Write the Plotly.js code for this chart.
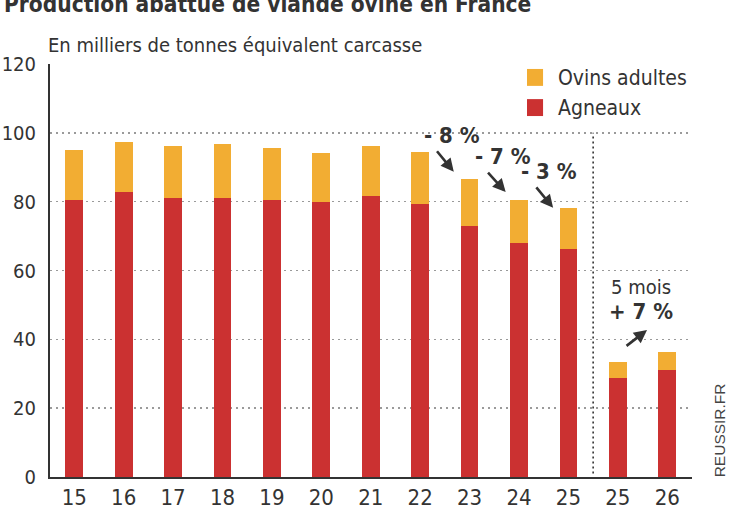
<!DOCTYPE html>
<html><head><meta charset="utf-8">
<script src="https://cdn.plot.ly/plotly-3.0.1.min.js"></script>
<style>html,body{margin:0;padding:0;background:#fff}#chart{width:747px;height:513px}</style>
</head><body><div id="chart"></div>
<script>
const categories = ['15','16','17','18','19','20','21','22','23','24','25','25','26'];
const agneaux = [80.5, 82.8, 81.0, 81.0, 80.5, 79.8, 81.7, 79.3, 72.8, 67.9, 66.2, 28.7, 31.0];
const totals  = [94.9, 97.3, 96.1, 96.7, 95.5, 94.2, 96.1, 94.3, 86.6, 80.6, 78.2, 33.4, 36.4];
const ovinsAdultes = totals.map((t, i) => +(t - agneaux[i]).toFixed(1));
const yTicks = [0, 20, 40, 60, 80, 100, 120];
const seriesNames = ['Agneaux', 'Ovins adultes'];
const colRed = '#CB3131', colOrange = '#F2AD33', ink = '#333333';
const narrow = '"Liberation Sans Narrow", "DejaVu Sans Condensed", sans-serif';
const xpos = categories.map((c, i) => i);

const traces = [
  {type:'bar', x:xpos, y:agneaux, name:seriesNames[0], marker:{color:colRed}, width:0.36, showlegend:false, hoverinfo:'y'},
  {type:'bar', x:xpos, y:ovinsAdultes, name:seriesNames[1], marker:{color:colOrange}, width:0.36, showlegend:false, hoverinfo:'y'}
];

const arrow = (x, y, ax, ay) => ({x, y, xref:'x', yref:'y', ax, ay, axref:'pixel', ayref:'pixel', text:'', showarrow:true,
  arrowhead:2, arrowsize:1, arrowwidth:2.6, arrowcolor:ink, standoff:0});
const pct = (x, y, t, bold) => ({x, y, xref:'x', yref:'y', text: bold ? '<b>'+t+'</b>' : t, showarrow:false,
  font:{family:narrow, size: bold ? 22 : 20, color:ink}});

const layout = {
  width:747, height:513,
  margin:{l:50, r:55, t:64, b:36},
  paper_bgcolor:'#fff', plot_bgcolor:'#fff',
  barmode:'stack', showlegend:false,
  xaxis:{range:[-0.49, 12.5], tickvals:xpos, ticktext:categories, showgrid:false, zeroline:false,
    showline:true, linecolor:ink, linewidth:2, ticks:'', ticklabelstandoff:0,
    tickfont:{family:narrow, size:22, color:ink}},
  yaxis:{range:[0, 120], tickvals:yTicks, showgrid:true, gridcolor:'#9a9a9a', gridwidth:1.5, griddash:'2px,4px',
    zeroline:false, showline:true, linecolor:ink, linewidth:2, ticks:'', ticklabelstandoff:8,
    tickfont:{family:narrow, size:20, color:ink}},
  shapes:[
    {type:'line', xref:'x', yref:'y', x0:10.5, x1:10.5, y0:1, y1:100, line:{color:ink, width:1.6, dash:'2px,3px'}},
    {type:'rect', xref:'paper', yref:'paper', x0:0.743, x1:0.768, y0:0.947, y1:0.988, fillcolor:colOrange, line:{width:0}},
    {type:'rect', xref:'paper', yref:'paper', x0:0.743, x1:0.768, y0:0.874, y1:0.915, fillcolor:colRed, line:{width:0}}
  ],
  annotations:[
    {xref:'paper', yref:'paper', x:-0.075, y:1.145, xanchor:'left', yanchor:'middle', showarrow:false,
      text:'<b>Production abattue de viande ovine en France</b>', font:{family:narrow, size:22.5, color:ink}},
    {xref:'paper', yref:'paper', x:-0.006, y:1.046, xanchor:'left', yanchor:'middle', showarrow:false,
      text:'En milliers de tonnes équivalent carcasse', font:{family:narrow, size:20, color:ink}},
    {xref:'paper', yref:'paper', x:0.788, y:0.966, xanchor:'left', yanchor:'middle', showarrow:false,
      text:seriesNames[1], font:{family:narrow, size:21, color:ink}},
    {xref:'paper', yref:'paper', x:0.788, y:0.893, xanchor:'left', yanchor:'middle', showarrow:false,
      text:seriesNames[0], font:{family:narrow, size:21, color:ink}},
    {xref:'paper', yref:'paper', x:1.043, y:0.112, xanchor:'center', yanchor:'middle', showarrow:false, textangle:-90,
      text:'REUSSIR.FR', font:{family:'"Liberation Sans", "DejaVu Sans", sans-serif', size:15.5, color:'#444'}},
    pct(7.64, 99.1, '- 8 %', true),
    pct(8.67, 93.0, '- 7 %', true),
    pct(9.60, 88.7, '- 3 %', true),
    pct(11.47, 55.2, '5 mois', false),
    pct(11.47, 48.0, '+ 7 %', true),
    arrow(7.68, 88.7, -18, -22),
    arrow(8.73, 82.8, -19, -21),
    arrow(9.69, 78.2, -18, -22),
    arrow(11.59, 42.7, -22, 17)
  ]
};
Plotly.newPlot('chart', traces, layout, {displayModeBar:false, staticPlot:true});
</script></body></html>
